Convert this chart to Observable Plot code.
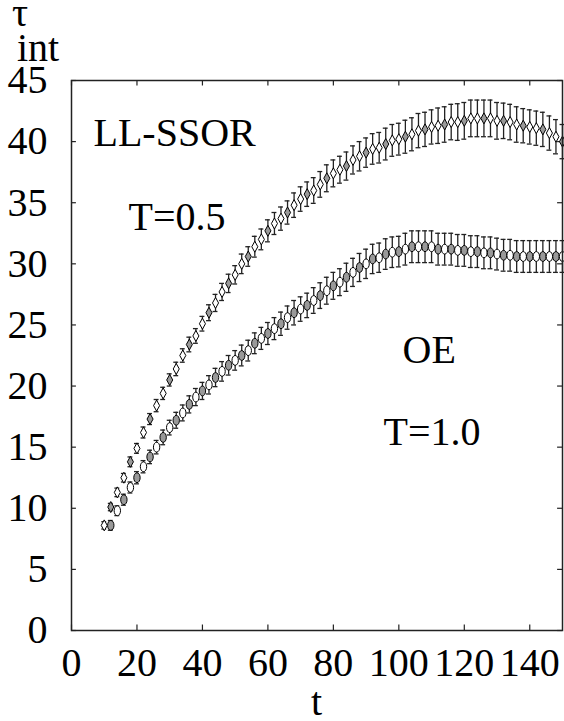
<!DOCTYPE html>
<html>
<head>
<meta charset="utf-8">
<script src="https://cdn.jsdelivr.net/npm/d3@7"></script>
<script src="https://cdn.jsdelivr.net/npm/@observablehq/plot@0.6"></script>
<style>
  html, body { margin: 0; padding: 0; background: #fff; }
  .lbl { font-family: "Liberation Serif", serif; font-size: 40px; line-height: 40px; color: #000; }
  #head { position: relative; width: 564px; height: 64px; }
  #foot { position: relative; width: 564px; height: 31px; }
  #chart svg { display: block; }
</style>
</head>
<body>
<div id="head" class="lbl">
  <div style="position:absolute; left:0; width:40px; text-align:center; top:-7px;">τ</div>
  <div style="position:absolute; left:17px; top:28px;">int</div>
</div>
<div id="chart"></div>
<div id="foot" class="lbl">
  <div style="position:absolute; left:71px; width:491px; text-align:center; top:-8px;">t</div>
</div>
<script>
// ---- data ----
const tUpper = [10,12,14,16,18,20,22,24,26,28,30,32,34,36,38,40,42,44,46,48,50,52,54,56,58,60,62,64,66,68,70,72,74,76,78,80,82,84,86,88,90,92,94,96,98,100,102,104,106,108,110,112,114,116,118,120,122,124,126,128,130,132,134,136,138,140,142,144,146,148,150];
const tauUpper = [8.6,10.1,11.3,12.5,13.8,14.9,16.2,17.3,18.4,19.4,20.5,21.4,22.5,23.4,24.1,25.1,26.0,26.8,27.7,28.4,29.1,30.0,30.6,31.4,32.0,32.7,33.3,33.7,34.2,34.8,35.3,35.7,36.0,36.5,37.0,37.4,37.7,38.0,38.5,38.8,39.1,39.4,39.5,39.8,40.1,40.2,40.4,40.6,40.9,41.0,41.2,41.3,41.4,41.6,41.6,41.7,41.9,41.9,41.9,41.9,41.7,41.7,41.6,41.4,41.3,41.2,41.1,41.0,40.7,40.4,40.0];
const errUpper = [0.3,0.3,0.35,0.35,0.4,0.4,0.45,0.45,0.5,0.5,0.5,0.55,0.55,0.6,0.6,0.6,0.65,0.7,0.7,0.75,0.75,0.8,0.8,0.85,0.85,0.9,0.9,0.95,0.95,1.0,1.0,1.0,1.05,1.05,1.1,1.1,1.1,1.15,1.15,1.2,1.2,1.25,1.25,1.3,1.3,1.3,1.35,1.35,1.4,1.4,1.4,1.45,1.45,1.45,1.5,1.5,1.5,1.5,1.5,1.5,1.5,1.45,1.45,1.45,1.4,1.4,1.4,1.4,1.4,1.4,1.4];

const tLower = [12,14,16,18,20,22,24,26,28,30,32,34,36,38,40,42,44,46,48,50,52,54,56,58,60,62,64,66,68,70,72,74,76,78,80,82,84,86,88,90,92,94,96,98,100,102,104,106,108,110,112,114,116,118,120,122,124,126,128,130,132,134,136,138,140,142,144,146,148,150];
const tauLower = [8.6,9.8,10.7,11.7,12.5,13.4,14.2,15.0,15.8,16.6,17.2,17.8,18.5,19.1,19.6,20.1,20.7,21.2,21.7,22.1,22.5,22.9,23.5,23.9,24.3,24.7,25.1,25.6,26.0,26.3,26.6,27.0,27.4,27.8,28.2,28.5,28.9,29.3,29.7,30.0,30.4,30.5,30.8,30.95,31.0,31.2,31.4,31.4,31.4,31.4,31.2,31.2,31.2,31.1,31.1,31.0,31.0,30.9,30.9,30.8,30.7,30.7,30.6,30.6,30.6,30.6,30.6,30.6,30.6,30.6];
const errLower = [0.4,0.4,0.45,0.45,0.5,0.5,0.55,0.55,0.6,0.6,0.65,0.65,0.7,0.7,0.7,0.75,0.75,0.8,0.8,0.8,0.85,0.85,0.85,0.9,0.9,0.9,0.95,0.95,1.0,1.0,1.0,1.05,1.05,1.1,1.1,1.1,1.15,1.15,1.15,1.2,1.2,1.2,1.25,1.25,1.25,1.3,1.3,1.3,1.3,1.3,1.3,1.3,1.3,1.3,1.3,1.3,1.3,1.3,1.3,1.3,1.3,1.3,1.3,1.3,1.3,1.3,1.3,1.3,1.3,1.3];

const xTicks = [0,20,40,60,80,100,120,140];
const yTicks = [0,5,10,15,20,25,30,35,40,45];

const upper = tUpper.map((t, i) => ({t, tau: tauUpper[i], err: errUpper[i]}));
const lower = tLower.map((t, i) => ({t, tau: tauLower[i], err: errLower[i]}));

// ---- custom marker shapes ----
const tallDiamond = {
  draw(ctx, size) {
    const r = Math.sqrt(size / Math.PI);
    ctx.moveTo(0, -r);
    ctx.lineTo(r * 0.55, 0);
    ctx.lineTo(0, r);
    ctx.lineTo(-r * 0.55, 0);
    ctx.closePath();
  }
};
const tallEllipse = {
  draw(ctx, size) {
    const r = Math.sqrt(size / Math.PI);
    const rx = r * 0.58, ry = r * 0.9, k = 0.5523;
    ctx.moveTo(0, -ry);
    ctx.bezierCurveTo(k * rx, -ry, rx, -k * ry, rx, 0);
    ctx.bezierCurveTo(rx, k * ry, k * rx, ry, 0, ry);
    ctx.bezierCurveTo(-k * rx, ry, -rx, k * ry, -rx, 0);
    ctx.bezierCurveTo(-rx, -k * ry, -k * rx, -ry, 0, -ry);
    ctx.closePath();
  }
};

const font = "Liberation Serif";
const capW = 0.75;
const ink = "#222";

function errorMarks(data) {
  return [
    Plot.ruleX(data, {x: "t", y1: d => d.tau - d.err, y2: d => d.tau + d.err, stroke: ink, strokeWidth: 1.3}),
    Plot.ruleY(data, {y: d => d.tau + d.err, x1: d => d.t - capW, x2: d => d.t + capW, stroke: ink, strokeWidth: 1.3}),
    Plot.ruleY(data, {y: d => d.tau - d.err, x1: d => d.t - capW, x2: d => d.t + capW, stroke: ink, strokeWidth: 1.3})
  ];
}

const txt = {fontSize: 40, fontFamily: font, fill: "#000", lineAnchor: "middle"};

const chart = Plot.plot({
  width: 564,
  height: 626,
  marginLeft: 71,
  marginRight: 2,
  marginTop: 16,
  marginBottom: 60,
  style: {fontFamily: font, fontSize: "40px", overflow: "visible"},
  x: {domain: [0, 150], ticks: xTicks},
  y: {domain: [0, 45], ticks: yTicks},
  marks: [
    // inward ticks on all four sides
    Plot.ruleX(xTicks, {x: d => d, y1: 0, y2: 0.45, stroke: ink, strokeWidth: 1.2}),
    Plot.ruleX(xTicks, {x: d => d, y1: 45, y2: 44.55, stroke: ink, strokeWidth: 1.2}),
    Plot.ruleY(yTicks, {y: d => d, x1: 0, x2: 1.5, stroke: ink, strokeWidth: 1.2}),
    Plot.ruleY(yTicks, {y: d => d, x1: 150, x2: 148.5, stroke: ink, strokeWidth: 1.2}),
    Plot.axisX({ticks: xTicks, tickSize: 0, tickPadding: 17, fontSize: 40, fontFamily: font, label: null}),
    Plot.axisY({ticks: yTicks, tickSize: 0, tickPadding: 24, fontSize: 40, fontFamily: font, label: null}),
    ...errorMarks(upper),
    ...errorMarks(lower),
    Plot.dot(upper, {x: "t", y: "tau", symbol: tallDiamond, r: 5.5, stroke: "#000", strokeWidth: 1,
      fill: (d, i) => (i % 3 === 1 ? "#999" : "#fff")}),
    Plot.dot(lower, {x: "t", y: "tau", symbol: tallEllipse, r: 5.5, stroke: "#000", strokeWidth: 1,
      fill: (d, i) => (i % 2 === 0 ? "#999" : "#fff")}),
    Plot.frame({stroke: ink, strokeWidth: 1.5}),
    // annotations
    Plot.text(["LL-SSOR"], {...txt, frameAnchor: "top-left", textAnchor: "start", dx: 22, dy: 53}),
    Plot.text(["T=0.5"], {...txt, frameAnchor: "top-left", textAnchor: "start", dx: 57, dy: 137}),
    Plot.text(["OE"], {...txt, frameAnchor: "top-left", textAnchor: "start", dx: 331, dy: 270}),
    Plot.text(["T=1.0"], {...txt, frameAnchor: "top-left", textAnchor: "start", dx: 312, dy: 352})
  ]
});
document.getElementById("chart").appendChild(chart);
</script>
</body>
</html>
